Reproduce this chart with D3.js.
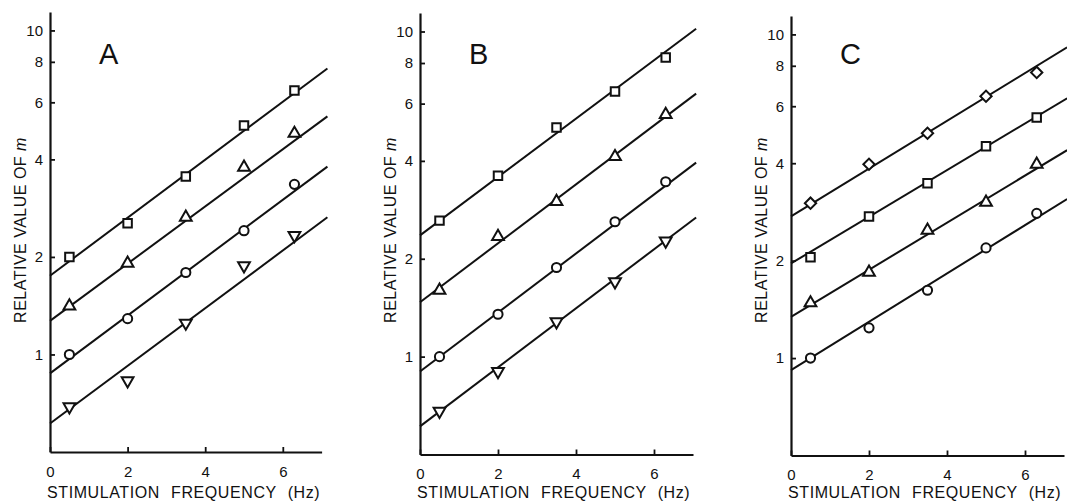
<html>
<head>
<script src="https://cdn.jsdelivr.net/npm/d3@7"></script>
<style>
  body {margin:0; background:#fff; font-family:"Liberation Sans", Arial, sans-serif;}
</style>
</head>
<body>
<script>
// stimulation frequencies (Hz)
var freqs = [0.5, 2, 3.5, 5, 6.3]
var xTicks = [0, 2, 4, 6]
var yTicks = [1, 2, 4, 6, 8, 10]

// panel A
var aSquare   = [2.0, 2.54, 3.54, 5.09, 6.53]
var aTriangle = [1.41, 1.91, 2.65, 3.78, 4.81]
var aCircle   = [1.0, 1.29, 1.79, 2.41, 3.35]
var aInvTri   = [0.69, 0.83, 1.25, 1.88, 2.33]
// fitted lines: value at x = 0 and at x = lineEnd
var aFitStart = [1.75, 1.27, 0.874, 0.612]
var aFitEnd   = [7.63, 5.43, 3.80, 2.65]

// panel B
var bSquare   = [2.62, 3.6, 5.07, 6.54, 8.32]
var bTriangle = [1.6, 2.34, 3.0, 4.12, 5.55]
var bCircle   = [1.0, 1.35, 1.88, 2.6, 3.45]
var bInvTri   = [0.68, 0.9, 1.28, 1.70, 2.27]
var bFitStart = [2.36, 1.47, 0.9, 0.61]
var bFitEnd   = [10.2, 6.44, 3.95, 2.68]

// panel C
var cDiamond  = [3.01, 3.97, 4.95, 6.44, 7.63]
var cSquare   = [2.05, 2.74, 3.47, 4.51, 5.54]
var cTriangle = [1.48, 1.84, 2.48, 3.03, 3.97]
var cCircle   = [1.0, 1.24, 1.62, 2.19, 2.80]
var cFitStart = [2.74, 1.96, 1.34, 0.918]
var cFitEnd   = [9.12, 6.35, 4.39, 3.1]

var panels = [
  {letter:"A", left:50, unit:38.8, bottom:452, top:12, lineEnd:7.15,
   series:[aSquare, aTriangle, aCircle, aInvTri], shapes:["square","triangle","circle","invtri"],
   fitStart:aFitStart, fitEnd:aFitEnd},
  {letter:"B", left:420, unit:39, bottom:454.5, top:13, lineEnd:7.08,
   series:[bSquare, bTriangle, bCircle, bInvTri], shapes:["square","triangle","circle","invtri"],
   fitStart:bFitStart, fitEnd:bFitEnd},
  {letter:"C", left:791, unit:39, bottom:455.5, top:16, lineEnd:7.08,
   series:[cDiamond, cSquare, cTriangle, cCircle], shapes:["diamond","square","triangle","circle"],
   fitStart:cFitStart, fitEnd:cFitEnd}
]

var width = 1067, height = 503
var svg = d3.select("body").append("svg")
    .attr("width", width)
    .attr("height", height)

function symbolPath(shape) {
  if (shape == "square") return d3.symbol().type(d3.symbolSquare).size(72)()
  if (shape == "diamond") return d3.symbol().type(d3.symbolSquare).size(64)()
  if (shape == "circle") return d3.symbol().type(d3.symbolCircle).size(66)()
  return d3.symbol().type(d3.symbolTriangle).size(60)()
}
function symbolRot(shape) {
  if (shape == "diamond") return 45
  if (shape == "invtri") return 180
  return 0
}

panels.forEach(function(p) {
  var x = d3.scaleLinear().domain([0, 7]).range([p.left, p.left + 7 * p.unit])
  var y = d3.scaleLog().domain([0.5, 11.4]).range([p.bottom, p.top])
  var g = svg.append("g")

  // fitted lines
  p.fitStart.forEach(function(v, i) {
    g.append("line")
      .attr("x1", x(0)).attr("y1", y(v))
      .attr("x2", x(p.lineEnd)).attr("y2", y(p.fitEnd[i]))
      .style("stroke", "#111").style("stroke-width", 2)
  })

  // axes
  var yAxis = d3.axisLeft(y).tickValues(yTicks).tickFormat(d3.format("d"))
      .tickSizeInner(-5).tickSizeOuter(0).tickPadding(7)
  var xAxis = d3.axisBottom(x).tickValues(xTicks).tickFormat(d3.format("d"))
      .tickSizeInner(-5).tickSizeOuter(0).tickPadding(14)
  var ya = g.append("g").attr("transform", "translate(" + p.left + ",0)").call(yAxis)
  var xa = g.append("g").attr("transform", "translate(0," + p.bottom + ")").call(xAxis)
  ;[ya, xa].forEach(function(a) {
    a.select(".domain").style("stroke", "#111").style("stroke-width", 2.2)
    a.selectAll(".tick line").style("stroke", "#111").style("stroke-width", 1.8)
    a.selectAll("text").style("font-size", "15px").style("fill", "#111")
      .style("font-family", "Liberation Sans")
  })

  // markers
  p.series.forEach(function(vals, si) {
    var shape = p.shapes[si]
    g.selectAll(null)
      .data(vals)
      .enter()
      .append("path")
      .attr("d", symbolPath(shape))
      .attr("transform", function(d, i) {
        return "translate(" + x(freqs[i]) + "," + y(d) + ") rotate(" + symbolRot(shape) + ")"
      })
      .style("fill", "#fff")
      .style("stroke", "#111")
      .style("stroke-width", 2)
  })

  // panel letter
  g.append("text")
    .attr("x", p.left + 49).attr("y", 64)
    .style("font-size", "29px").style("fill", "#111")
    .text(p.letter)

  // x title
  g.append("text")
    .attr("x", p.left - 3).attr("y", 498)
    .style("font-size", "16px").style("fill", "#111")
    .style("letter-spacing", "0.6px").style("word-spacing", "6px")
    .text("STIMULATION FREQUENCY (Hz)")

  // y title
  var yt = g.append("text")
    .attr("transform", "translate(" + (p.left - 24) + ",230) rotate(-90)")
    .attr("text-anchor", "middle")
    .style("font-size", "16px").style("fill", "#111")
    .style("letter-spacing", "0.5px")
  yt.append("tspan").text("RELATIVE VALUE OF ")
  yt.append("tspan").style("font-style", "italic").text("m")
})
</script>
</body>
</html>
